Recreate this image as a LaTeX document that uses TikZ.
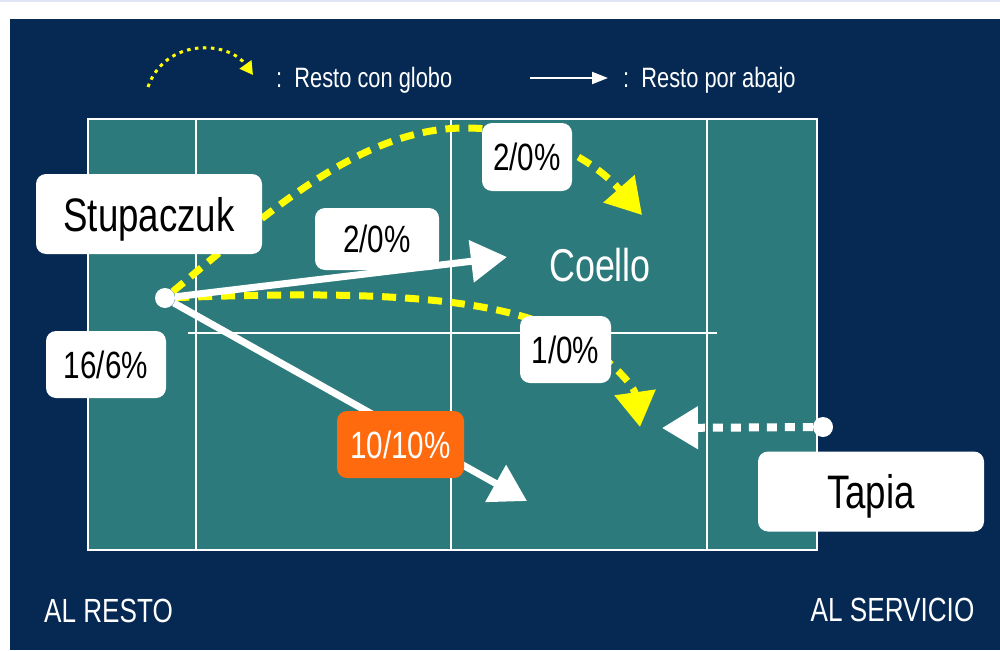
\documentclass[tikz,border=0pt]{standalone}
\usepackage{fontspec}
\setmainfont{Liberation Sans}[FakeStretch=0.78]
\usetikzlibrary{positioning}
\usetikzlibrary{arrows.meta}
\definecolor{navy}{RGB}{6,41,83}
\definecolor{court}{RGB}{45,122,124}
\definecolor{lobyellow}{RGB}{255,255,0}
\definecolor{hotorange}{RGB}{255,106,14}
\definecolor{topline}{RGB}{224,230,245}
\tikzset{
    namebox/.style = {rectangle, rounded corners=10pt, fill=white, minimum width=226pt, minimum height=80pt, inner sep=0pt, text height=34pt, text depth=0pt, font=\fontsize{47}{50}\selectfont},
    numbox/.style = {rectangle, rounded corners=10pt, fill=white, minimum height=67pt, inner sep=0pt, text height=27pt, text depth=0pt, font=\fontsize{38}{40}\selectfont},
    numboxo/.style = {numbox, fill=hotorange, text=white},
    dotnode/.style = {circle, fill=white, minimum size=20pt, inner sep=0pt},
    sidetext/.style = {text=white, inner sep=0pt, anchor=base, font=\fontsize{33.5}{40}\selectfont},
    legtext/.style = {text=white, inner sep=0pt, anchor=base west, font=\fontsize{28}{30}\selectfont},
    edgew/.style = {-{Triangle[length=36pt,width=41pt]}, line width=7pt, white}, % por abajo
    edgey/.style = {-{Triangle[length=35pt,width=40pt]}, line width=7pt, lobyellow, dash pattern=on 14pt off 9pt}, % globo
    edgewd/.style = {-{Triangle[length=36pt,width=41pt]}, line width=8pt, white, dash pattern=on 10pt off 8pt}, % servicio
    courtline/.style = {white, line width=2pt}
}

\begin{document}
\begin{tikzpicture}[x=1pt, y=-1pt]
  \useasboundingbox (0,0) rectangle (1000,650);
  \fill[white] (0,0) rectangle (1000,650);
  \fill[topline] (0,0) rectangle (1000,2);
  \fill[navy] (10,19) rectangle (1000,650);

  % court
  \filldraw[fill=court, draw=white, line width=2.5pt] (88,119) rectangle (817,550);
  \foreach \x in {196,451,707}
    \draw[courtline] (\x,119) -- (\x,550);
  \draw[courtline] (188,333) -- (717,333);

  % legend
  \coordinate (legA) at (148,87);
  \coordinate (legB) at (253,75);
  \draw[lobyellow, line width=3pt, dash pattern=on 3.5pt off 4.5pt, -{Triangle[length=13pt,width=14pt]}]
    (legA) .. controls (165,38) and (228,40) .. (legB);
  \node[legtext] (leglob) at (276,88) {:\ \ Resto con globo};
  \coordinate (legC) at (530,78);
  \coordinate (legD) at (608,78);
  \draw[white, line width=2pt, -{Triangle[length=16pt,width=12pt]}] (legC) -- (legD);
  \node[legtext] (legabajo) at (623,88) {:\ \ Resto por abajo};

  % players
  \node[dotnode] (dotS) at (165,298) {};
  \node[dotnode] (dotT) at (823,427) {};
  \coordinate (abajo1) at (507,257);
  \coordinate (abajo2) at (527,501);
  \coordinate (lobtop) at (465,128);
  \coordinate (lob1end) at (642,215);
  \coordinate (lob2mid) at (540,322);
  \coordinate (lob2end) at (640,427);
  \coordinate (servend) at (662,428);

  \draw[edgey] (dotS) .. controls (265,215) and (360,128) .. (lobtop)
    .. controls (545,128) and (598,165) .. (lob1end);
  \draw[edgey] (dotS) .. controls (330,292) and (460,293) .. (lob2mid)
    .. controls (600,345) and (634,385) .. (lob2end);
  \draw[edgew] (dotS) -- (abajo1);
  \draw[edgew] (dotS) -- (abajo2);
  \draw[edgewd] (dotT) -- (servend);

  % labels
  \node[namebox] (stupa) at (149,214) {Stupaczuk};
  \node[namebox] (tapia) at (871,491.5) {Tapia};
  \node[numbox, minimum width=120pt] (n16) at (106,364.5) {16/6\%};
  \node[numbox, minimum width=90pt, minimum height=68pt] (lobA) at (527,157) {2/0\%};
  \node[numbox, minimum width=124pt, minimum height=62pt] (abajoA) at (377,239) {2/0\%};
  \node[numbox, minimum width=91pt] (lobB) at (565.5,349.5) {1/0\%};
  \node[numboxo, minimum width=127pt] (abajoB) at (400.5,444.5) {10/10\%};
  \node[text=white, font=\fontsize{46}{50}\selectfont] (coello) at (600,265) {Coello};

  \node[sidetext] (resto) at (108.5,622) {AL RESTO};
  \node[sidetext] (servicio) at (892.5,621) {AL SERVICIO};
\end{tikzpicture}
\end{document}
